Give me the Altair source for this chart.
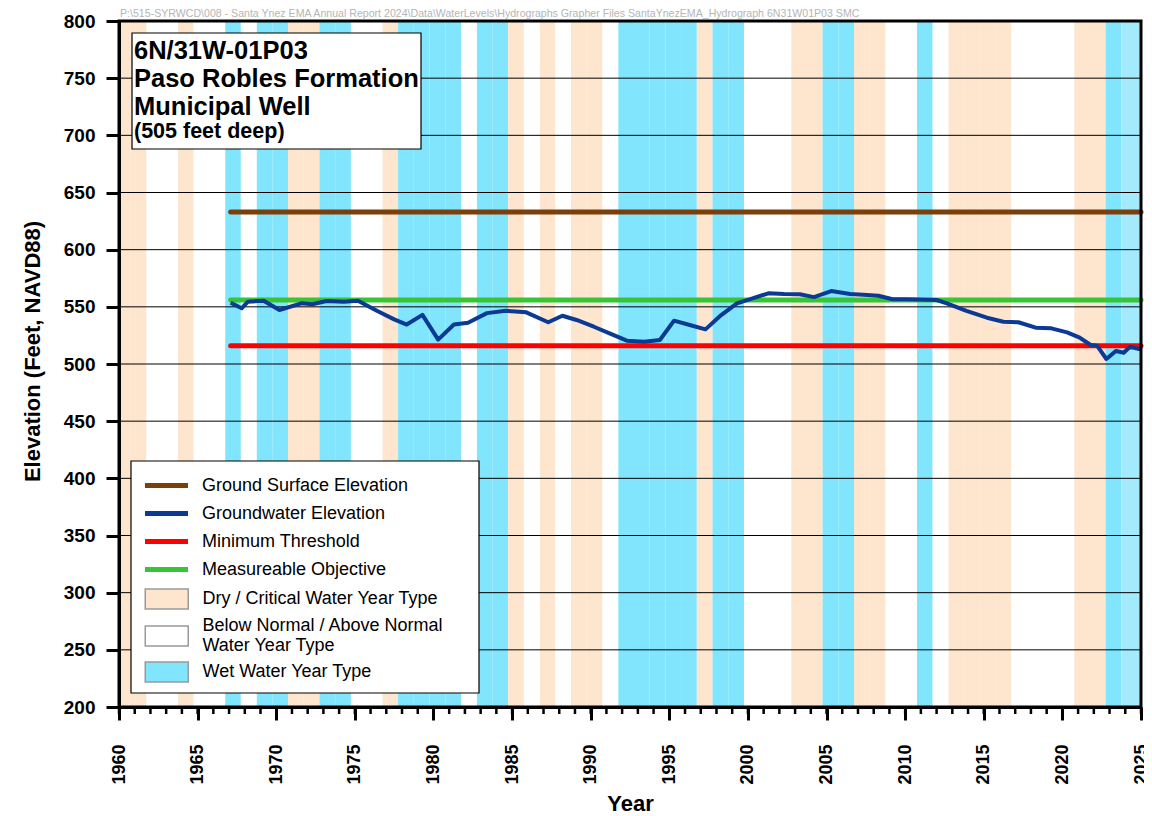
import altair as alt
import pandas as pd

# ---------------- data ----------------
HEADER = r"P:\515-SYRWCD\008 - Santa Ynez EMA Annual Report 2024\Data\WaterLevels\Hydrographs Grapher Files SantaYnezEMA_Hydrograph 6N31W01P03 SMC"

LINE_SERIES = ["Ground Surface Elevation", "Groundwater Elevation",
               "Minimum Threshold", "Measureable Objective"]
LINE_COLORS = ["#7B3F0C", "#0A3A94", "#FF0000", "#35C535"]
DRY = "Dry / Critical Water Year Type"
NORMAL = "Below Normal / Above Normal Water Year Type"
WET = "Wet Water Year Type"
DRY_COLOR, NORMAL_COLOR, WET_COLOR, RECENT_COLOR = "#FDE5CE", "#FFFFFF", "#80E5FD", "#A3EBFC"

# water-year types, WY1960 .. WY2023  (D = dry/critical, N = below/above normal, W = wet)
WY_FIRST = 1960
WY_TYPES = ("D D N N D N N W N W W D D W W N N D W W W W N W W D N D N D D N "
            "W W W W W D W W N N N D D W W D D N N W N D D D D N N N N D D W").split()
WY_RECENT = 2024  # most recent wet year(s), lighter shade

# groundwater elevation measurements (decimal year, feet NAVD88)
GW_YEAR = [1967.1, 1967.8, 1968.2, 1969.2, 1970.2, 1971.6, 1972.3, 1973.2, 1974.3, 1975.2,
           1976.4, 1977.5, 1978.3, 1979.3, 1980.3, 1981.3, 1982.2, 1983.4, 1984.6, 1985.9,
           1987.3, 1988.2, 1989.1, 1990.2, 1991.2, 1992.3, 1993.4, 1994.4, 1995.3, 1996.3,
           1997.3, 1998.3, 1999.3, 2000.1, 2001.3, 2002.3, 2003.3, 2004.2, 2005.3, 2006.5,
           2007.6, 2008.3, 2009.2, 2010.1, 2012.0, 2012.65, 2013.9, 2015.2, 2016.25, 2017.2,
           2018.3, 2019.3, 2020.3, 2021.1, 2021.8, 2022.2, 2022.8, 2023.4, 2023.9, 2024.3, 2024.95]
GW_ELEV = [553.6, 548.7, 554.5, 555.4, 547.2, 553.1, 552.2, 555.1, 554.5, 555.4,
           546.6, 539.0, 534.5, 543.0, 521.3, 534.5, 536.0, 544.5, 546.6, 545.2,
           536.5, 542.2, 538.5, 532.6, 526.8, 520.4, 519.5, 521.0, 537.9, 534.1,
           530.3, 542.8, 553.1, 556.6, 561.8, 561.2, 561.0, 558.5, 563.8, 561.2,
           560.3, 559.7, 556.6, 556.6, 556.0, 553.1, 546.4, 540.5, 537.0, 536.5,
           531.8, 531.2, 527.7, 523.0, 516.6, 516.0, 504.4, 511.4, 509.9, 515.1, 512.9]

REF_NAMES = ["Ground Surface Elevation", "Measureable Objective", "Minimum Threshold"]
REF_ELEV = [633, 556, 516]
REF_START = 1967.1
X_MIN, X_MAX = 1960, 2025
Y_MIN, Y_MAX = 200, 800
Y_TICKS = list(range(200, 801, 50))
X_TICKS = list(range(1960, 2026, 5))
MINOR_X = list(range(1960, 2026))

TITLE_LINES = ["6N/31W-01P03", "Paso Robles Formation", "Municipal Well", "(505 feet deep)"]

# ---------------- tables ----------------
type_name = {"D": DRY, "N": NORMAL, "W": WET}
band_rows = []
for i, t in enumerate(WY_TYPES):
    wy = WY_FIRST + i
    band_rows.append({"start": max(X_MIN, wy - 0.25), "end": min(X_MAX, wy + 0.75),
                      "band": type_name[t]})
bands = pd.DataFrame(band_rows)
recent = pd.DataFrame([{"start": WY_RECENT - 0.25, "end": X_MAX}])
gw = pd.DataFrame({"year": GW_YEAR, "elev": GW_ELEV, "series": LINE_SERIES[1]})
refs = pd.DataFrame({"series": REF_NAMES, "elev": REF_ELEV, "start": REF_START, "end": X_MAX})
grid = pd.DataFrame({"elev": Y_TICKS})
minor = pd.DataFrame({"year": MINOR_X})
one = pd.DataFrame([{"k": 0}])

# ---------------- styling ----------------
FONT = "Liberation Sans"
W, H = 1022, 686

xscale = alt.Scale(domain=[X_MIN, X_MAX], nice=False, zero=False)
yscale = alt.Scale(domain=[Y_MIN, Y_MAX], nice=False, zero=False)
xaxis = alt.Axis(values=X_TICKS, labelAngle=-90, labelFont=FONT, labelFontSize=18,
                 labelFontWeight="bold", labelColor="black", labelPadding=24,
                 tickSize=13, tickWidth=3, tickColor="black", domainColor="black",
                 domainWidth=3, grid=False, title="Year", titleFont=FONT,
                 titleFontSize=22, titleFontWeight="bold", titleColor="black",
                 titleY=86, titleBaseline="top", zindex=1, format="d")
yaxis = alt.Axis(values=Y_TICKS, labelFont=FONT, labelFontSize=19, labelFontWeight="bold",
                 labelColor="black", labelPadding=11, tickSize=13, tickWidth=3,
                 tickColor="black", domainColor="black", domainWidth=3, grid=False,
                 title="Elevation (Feet, NAVD88)", titleFont=FONT, titleFontSize=22,
                 titleFontWeight="bold", titleColor="black", titleX=-80, titleY=330,
                 titleAngle=-90, titleAlign="center", titleBaseline="alphabetic", zindex=1)


def X(field):
    return alt.X(field, type="quantitative", scale=xscale, axis=xaxis)


def Y(field):
    return alt.Y(field, type="quantitative", scale=yscale, axis=yaxis)


common = dict(title=None, orient="none", padding=0, labelFont=FONT, labelFontSize=18,
              labelColor="black", labelLimit=600, symbolSize=400)
band_common = dict(legendX=36.75, labelOffset=24.75, symbolType="M-2.15,-1H2.15V1H-2.15Z",
                   symbolStrokeColor="#9a9a9a", symbolStrokeWidth=1.5, **common)

line_legend = alt.Legend(legendX=35, legendY=452, rowPadding=5, labelOffset=23,
                         symbolType="M-2.15,0H2.15", symbolStrokeWidth=5, **common)
# dry + wet share one legend, with a gap left for the two-line "normal" entry
drywet_legend = alt.Legend(legendY=567, rowPadding=47, **band_common)
normal_legend = alt.Legend(
    legendY=604, labelBaseline="line-bottom",
    labelExpr="['Below Normal / Above Normal', 'Water Year Type']", **band_common)

stroke = alt.Stroke("series:N", scale=alt.Scale(domain=LINE_SERIES, range=LINE_COLORS),
                    legend=line_legend)

# ---------------- layers ----------------
drywet_layer = alt.Chart(bands).transform_filter(alt.datum.band != NORMAL).mark_rect(clip=True).encode(
    x=X("start"), x2="end",
    fill=alt.Fill("band:N", scale=alt.Scale(domain=[DRY, WET], range=[DRY_COLOR, WET_COLOR]),
                  legend=drywet_legend))
normal_layer = alt.Chart(bands).transform_filter(alt.datum.band == NORMAL).mark_rect(clip=True).encode(
    x=X("start"), x2="end",
    color=alt.Color("band:N", scale=alt.Scale(domain=[NORMAL], range=[NORMAL_COLOR]),
                    legend=normal_legend))
recent_layer = alt.Chart(recent).mark_rect(clip=True, color=RECENT_COLOR).encode(
    x=X("start"), x2="end")
grid_layer = alt.Chart(grid).mark_rule(color="black", strokeWidth=1).encode(y=Y("elev"))
minor_layer = alt.Chart(minor).mark_rule(color="black", strokeWidth=2.5).encode(
    x=X("year"), y=alt.value(H), y2=alt.value(H + 7))

header_layer = alt.Chart(one).mark_text(
    text=HEADER, font=FONT, fontSize=10.6, color="#b5b5b5",
    align="left", baseline="alphabetic").encode(x=alt.value(1), y=alt.value(-4.5))

title_box = alt.Chart(one).mark_rect(fill="white", stroke="black", strokeWidth=1.2).encode(
    x=alt.value(13), x2=alt.value(302), y=alt.value(12), y2=alt.value(128))
title_layers = []
for line, ty, fs in zip(TITLE_LINES, [38, 66, 94, 117], [25.5, 25.5, 25.5, 21.5]):
    title_layers.append(alt.Chart(one).mark_text(
        text=line, font=FONT, fontSize=fs, fontWeight="bold", color="black",
        align="left", baseline="alphabetic").encode(x=alt.value(15), y=alt.value(ty)))

legend_box = alt.Chart(one).mark_rect(fill="white", stroke="black", strokeWidth=1.2).encode(
    x=alt.value(12), x2=alt.value(360), y=alt.value(440), y2=alt.value(672))

ref_layer = alt.Chart(refs).mark_rule(strokeWidth=5, strokeCap="round").encode(
    x=X("start"), x2="end", y=Y("elev"), stroke=stroke)
gw_layer = alt.Chart(gw).mark_line(strokeWidth=4, strokeJoin="round").encode(
    x=X("year"), y=Y("elev"), stroke=stroke)

frame = alt.Chart(one).mark_rect(fill="transparent", stroke="black", strokeWidth=3).encode(
    x=alt.value(0), x2=alt.value(W), y=alt.value(0), y2=alt.value(H))

chart = alt.layer(
    drywet_layer, normal_layer, recent_layer, grid_layer, minor_layer, header_layer,
    title_box, *title_layers, legend_box, ref_layer, gw_layer, frame,
).properties(
    width=W, height=H,
    autosize=alt.AutoSizeParams(type="none"),
    padding={"left": 111, "top": 13, "right": 3, "bottom": 109},
).configure_view(stroke=None)

chart.save("out.html", embed_options={"renderer": "svg", "actions": False})
